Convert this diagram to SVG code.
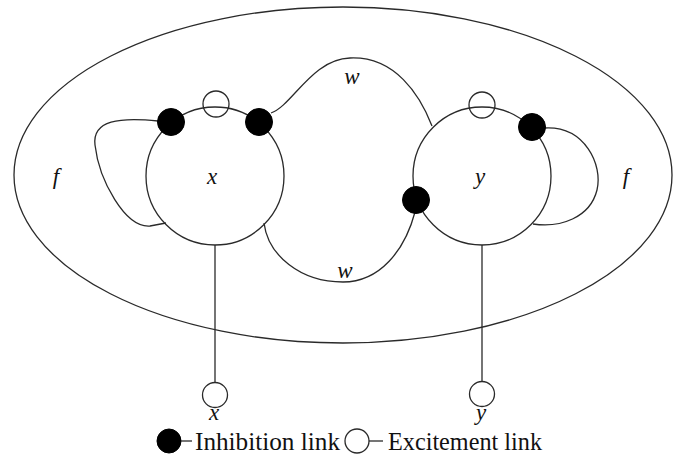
<svg xmlns="http://www.w3.org/2000/svg" width="692" height="455" viewBox="0 0 692 455">
<style>
.ln{fill:none;stroke:#2a2a2a;stroke-width:1.3}
.inh{fill:#000;stroke:#000;stroke-width:1}
.exc{fill:none;stroke:#2a2a2a;stroke-width:1.3}
.lbl{font-family:"Liberation Serif","Times New Roman",serif;font-style:italic;font-size:23px;fill:#111;text-anchor:middle}
.leg{font-family:"Liberation Serif","Times New Roman",serif;font-size:25px;fill:#111}
</style>
<rect width="692" height="455" fill="#fff"/>
<g id="field">
<ellipse class="ln" cx="343" cy="175" rx="329" ry="168"/>
<text class="lbl" x="56" y="184" font-size="25">f</text>
<text class="lbl" x="626" y="184" font-size="25">f</text>
</g>
<g id="connectors">
<path class="ln" d="M158,121 C120,117 92,120 95,145 C99,180 125,228 150,226 L166,223"/>
<path class="ln" d="M545,128 C585,126 603,165 597,190 C590,218 560,228 533,224"/>
<path class="ln" d="M271,113 C292,106 312,59 350,58 C395,56 420,95 432,126"/>
<path class="ln" d="M264,223 C268,255 300,282 343,282 C380,282 405,250 415,212"/>
<line class="ln" x1="215" y1="245" x2="215" y2="383"/>
<line class="ln" x1="482" y1="245" x2="482" y2="382"/>
<text class="lbl" x="352" y="84">w</text>
<text class="lbl" x="345" y="278">w</text>
</g>
<g id="node-x">
<circle class="ln" cx="215" cy="176" r="69"/>
<text class="lbl" x="212" y="184" font-size="26">x</text>
<circle class="exc" cx="216" cy="104" r="13"/>
<circle class="inh" cx="171" cy="122" r="13.5"/>
<circle class="inh" cx="259" cy="122" r="13.5"/>
</g>
<g id="node-y">
<circle class="ln" cx="482" cy="176" r="69"/>
<text class="lbl" x="480" y="184" font-size="26">y</text>
<circle class="exc" cx="482" cy="105" r="13"/>
<circle class="inh" cx="532" cy="127" r="13.5"/>
<circle class="inh" cx="416" cy="200" r="13.5"/>
</g>
<g id="input-x">
<circle class="exc" cx="215" cy="395" r="12.5"/>
<text class="lbl" x="214" y="420" font-size="21">x</text>
</g>
<g id="input-y">
<circle class="exc" cx="482" cy="394" r="12.5"/>
<text class="lbl" x="481" y="420" font-size="21">y</text>
</g>
<g id="legend">
<circle class="inh" cx="169" cy="441" r="12"/>
<line class="ln" x1="181" y1="441" x2="192" y2="441"/>
<text class="leg" x="195" y="449.5" textLength="145" lengthAdjust="spacingAndGlyphs">Inhibition link</text>
<circle class="exc" cx="357" cy="441" r="12"/>
<line class="ln" x1="369" y1="441" x2="383" y2="441"/>
<text class="leg" x="388" y="449.5" textLength="154" lengthAdjust="spacingAndGlyphs">Excitement link</text>
</g>
</svg>
